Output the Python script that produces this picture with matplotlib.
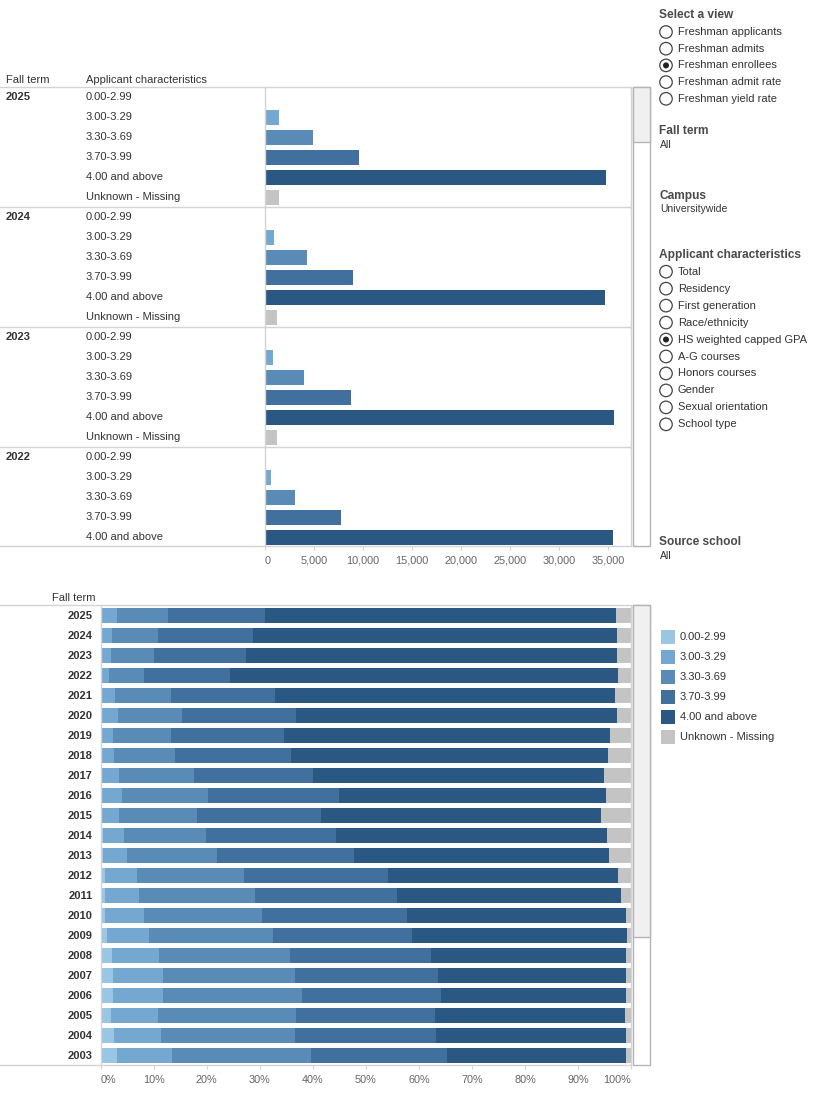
import matplotlib
matplotlib.use('Agg')
import matplotlib.pyplot as plt
import numpy as np
from matplotlib.patches import Rectangle, Ellipse
from matplotlib.lines import Line2D
import matplotlib.transforms as mtransforms

plt.rcParams['font.family'] = ['Liberation Sans', 'DejaVu Sans']

# ---------------- data ----------------
categories = ['0.00-2.99', '3.00-3.29', '3.30-3.69', '3.70-3.99',
              '4.00 and above', 'Unknown - Missing']
colors = ['#9ac5e3', '#75a8d0', '#5a8bb7', '#41709e', '#2b5883', '#c4c4c4']

top_years = ['2025', '2024', '2023', '2022']
counts_2025 = [100, 1460, 4930, 9620, 34720, 1460]
counts_2024 = [100, 920, 4300, 9000, 34700, 1200]
counts_2023 = [100, 820, 4000, 8800, 35600, 1200]
counts_2022 = [100, 640, 3090, 7760, 35500, 1300]
top_counts = [counts_2025, counts_2024, counts_2023, counts_2022]
top_ticks = [0, 5000, 10000, 15000, 20000, 25000, 30000, 35000]

bottom_years = ['2025', '2024', '2023', '2022', '2021', '2020', '2019', '2018',
                '2017', '2016', '2015', '2014', '2013', '2012', '2011', '2010',
                '2009', '2008', '2007', '2006', '2005', '2004', '2003']
pct_000_299 = [0.2, 0.2, 0.2, 0.2, 0.2, 0.2, 0.2, 0.2, 0.2, 0.2, 0.2, 0.4, 0.4,
               0.8, 0.8, 0.8, 1.2, 2.1, 2.3, 2.3, 1.9, 2.5, 3.1]
pct_300_329 = [2.9, 1.9, 1.7, 1.4, 2.5, 3.1, 2.1, 2.3, 3.2, 3.8, 3.2, 4.0, 4.6,
               6.0, 6.4, 7.4, 7.9, 8.9, 9.4, 9.4, 8.9, 8.9, 10.3]
pct_330_369 = [9.6, 8.7, 8.1, 6.6, 10.5, 12.0, 10.9, 11.5, 14.2, 16.2, 14.8, 15.4,
               16.9, 20.2, 21.9, 22.2, 23.4, 24.7, 24.9, 26.2, 26.0, 25.2, 26.2]
pct_370_399 = [18.3, 17.9, 17.4, 16.2, 19.7, 21.5, 21.4, 21.9, 22.4, 24.7, 23.3,
               24.5, 25.8, 27.1, 26.7, 27.3, 26.2, 26.6, 27.0, 26.2, 26.2, 26.6, 25.7]
pct_400_up = [66.1, 68.6, 69.9, 73.1, 64.0, 60.5, 61.4, 59.7, 54.9, 50.3, 52.8,
              51.1, 48.1, 43.4, 42.3, 41.3, 40.5, 36.7, 35.4, 34.9, 35.8, 35.8, 33.7]
pct_unknown = [2.9, 2.7, 2.7, 2.5, 3.1, 2.7, 4.0, 4.4, 5.1, 4.8, 5.7, 4.6, 4.2,
               2.5, 1.9, 1.0, 0.8, 1.0, 1.0, 1.0, 1.2, 1.0, 1.0]
bottom_series = [pct_000_299, pct_300_329, pct_330_369, pct_370_399, pct_400_up, pct_unknown]
pct_ticks = [0, 10, 20, 30, 40, 50, 60, 70, 80, 90, 100]

views = ['Freshman applicants', 'Freshman admits', 'Freshman enrollees',
         'Freshman admit rate', 'Freshman yield rate']
selected_view = 'Freshman enrollees'
characteristics = ['Total', 'Residency', 'First generation', 'Race/ethnicity',
                   'HS weighted capped GPA', 'A-G courses', 'Honors courses',
                   'Gender', 'Sexual orientation', 'School type']
selected_char = 'HS weighted capped GPA'

# ---------------- layout helpers ----------------
W, H = 815, 1094
def fx(p): return p / W
def fy(p): return 1 - p / H

TXT = '#333333'
TITLE = '#4a4a4a'
TICK = '#666666'
GRID = '#d4d4d4'

fig = plt.figure(figsize=(W / 100, H / 100), dpi=100)

# ---------------- top bar chart ----------------
ax1 = fig.add_axes([fx(265), fy(546), (631 - 265) / W, (546 - 87) / H])
row_h = 20.0
n_vis = (546 - 87) / row_h
for b, counts in enumerate(top_counts):
    ypos = [b * 6 + c + 0.5 for c in range(len(categories))]
    ax1.barh(ypos, counts, height=0.75, color=colors, linewidth=0)
ax1.set_xlim(0, 35000 * (631 - 265) / (608.3 - 265))
ax1.set_ylim(n_vis, 0)
ax1.set_yticks([])
ax1.set_xticks(top_ticks)
ax1.set_xticklabels([f'{t:,}' for t in top_ticks], color=TICK, fontsize=7.8)
ax1.get_xticklabels()[0].set_horizontalalignment('left')
ax1.tick_params(axis='x', length=3, color=GRID, pad=4)
for s in ['top', 'bottom']:
    ax1.spines[s].set_visible(False)
for s in ['left', 'right']:
    ax1.spines[s].set_color(GRID)
    ax1.spines[s].set_linewidth(1)

tr1 = mtransforms.blended_transform_factory(fig.transFigure, ax1.transData)
for b, yr in enumerate(top_years):
    for c, cat in enumerate(categories):
        yv = b * 6 + c + 0.5
        if yv > n_vis:
            continue
        if c == 0:
            fig.text(fx(6), 0, yr, transform=tr1, fontsize=8, fontweight='bold',
                     color=TXT, va='center', ha='left').set_y(yv)
        fig.text(fx(86), 0, cat, transform=tr1, fontsize=8, color=TXT,
                 va='center', ha='left').set_y(yv)
    # separator above each block
    fig.add_artist(Line2D([0, fx(631)], [b * 6, b * 6], transform=tr1,
                          color=GRID, lw=1))
fig.add_artist(Line2D([0, fx(631)], [n_vis, n_vis], transform=tr1, color=GRID, lw=1))

fig.text(fx(6), fy(80), 'Fall term', fontsize=8, color=TXT, va='center')
fig.text(fx(86), fy(80), 'Applicant characteristics', fontsize=8, color=TXT, va='center')

# scrollbar top
fig.add_artist(Rectangle((fx(633), fy(546)), 17 / W, (546 - 87) / H,
                         transform=fig.transFigure, facecolor='white',
                         edgecolor='#b4b4b4', lw=1))
fig.add_artist(Rectangle((fx(633), fy(142)), 17 / W, (142 - 87) / H,
                         transform=fig.transFigure, facecolor='#f0f0f0',
                         edgecolor='#b4b4b4', lw=1))

# ---------------- bottom stacked chart ----------------
ax2 = fig.add_axes([fx(100.7), fy(1065), (631 - 100.7) / W, (1065 - 605) / H])
ypos2 = np.arange(len(bottom_years)) + 0.5
left = np.zeros(len(bottom_years))
for cat, vals, col in zip(categories, bottom_series, colors):
    v = np.array(vals)
    ax2.barh(ypos2, v, left=left, height=0.75, color=col, linewidth=0, label=cat)
    left += v
ax2.set_xlim(0, 100)
ax2.set_ylim(len(bottom_years), 0)
ax2.set_yticks(ypos2)
ax2.set_yticklabels(bottom_years, fontsize=8, fontweight='bold', color=TXT)
ax2.tick_params(axis='y', length=0, pad=6)
ax2.set_xticks(pct_ticks)
ax2.set_xticklabels([f'{t}%' for t in pct_ticks], color=TICK, fontsize=7.8)
ax2.get_xticklabels()[0].set_horizontalalignment('left')
ax2.get_xticklabels()[-1].set_horizontalalignment('right')
ax2.tick_params(axis='x', length=3, color=GRID, pad=4)
for s in ['top', 'bottom']:
    ax2.spines[s].set_visible(False)
for s in ['left', 'right']:
    ax2.spines[s].set_color(GRID)
    ax2.spines[s].set_linewidth(1)
for yline in [605, 1065]:
    fig.add_artist(Line2D([0, fx(631)], [fy(yline), fy(yline)],
                          transform=fig.transFigure, color=GRID, lw=1))
fig.text(fx(95), fy(598), 'Fall term', fontsize=8, color=TXT, va='center', ha='right')

# scrollbar bottom
fig.add_artist(Rectangle((fx(633), fy(1065)), 17 / W, (1065 - 605) / H,
                         transform=fig.transFigure, facecolor='white',
                         edgecolor='#b4b4b4', lw=1))
fig.add_artist(Rectangle((fx(633), fy(937)), 17 / W, (937 - 605) / H,
                         transform=fig.transFigure, facecolor='#f0f0f0',
                         edgecolor='#b4b4b4', lw=1))

# legend
for i, (cat, col) in enumerate(zip(categories, colors)):
    yc = 637 + 20 * i
    fig.add_artist(Rectangle((fx(661), fy(yc + 7)), 14 / W, 14 / H,
                             transform=fig.transFigure, facecolor=col, lw=0))
    fig.text(fx(680), fy(yc), cat, fontsize=8, color=TXT, va='center', ha='left')

# ---------------- right panel ----------------
def title(y, s):
    fig.text(fx(659), fy(y), s, fontsize=8.6, fontweight='bold', color=TITLE,
             va='center', ha='left')

def value(y, s):
    fig.text(fx(660), fy(y), s, fontsize=7.5, color=TXT, va='center', ha='left')

def radio(y, s, sel):
    fig.add_artist(Ellipse((fx(666), fy(y)), 12.5 / W, 12.5 / H,
                           transform=fig.transFigure, facecolor='white',
                           edgecolor='#444444', lw=0.9))
    if sel:
        fig.add_artist(Ellipse((fx(666), fy(y)), 6 / W, 6 / H,
                               transform=fig.transFigure, facecolor='#222222', lw=0))
    fig.text(fx(678), fy(y), s, fontsize=8, color=TXT, va='center', ha='left')

title(15, 'Select a view')
for i, v in enumerate(views):
    radio(32 + 16.7 * i, v, v == selected_view)
title(131, 'Fall term')
value(145, 'All')
title(196, 'Campus')
value(209, 'Universitywide')
title(255, 'Applicant characteristics')
for i, v in enumerate(characteristics):
    radio(271.7 + 16.96 * i, v, v == selected_char)
title(542, 'Source school')
value(556, 'All')

fig.savefig('out.png', dpi=100)
